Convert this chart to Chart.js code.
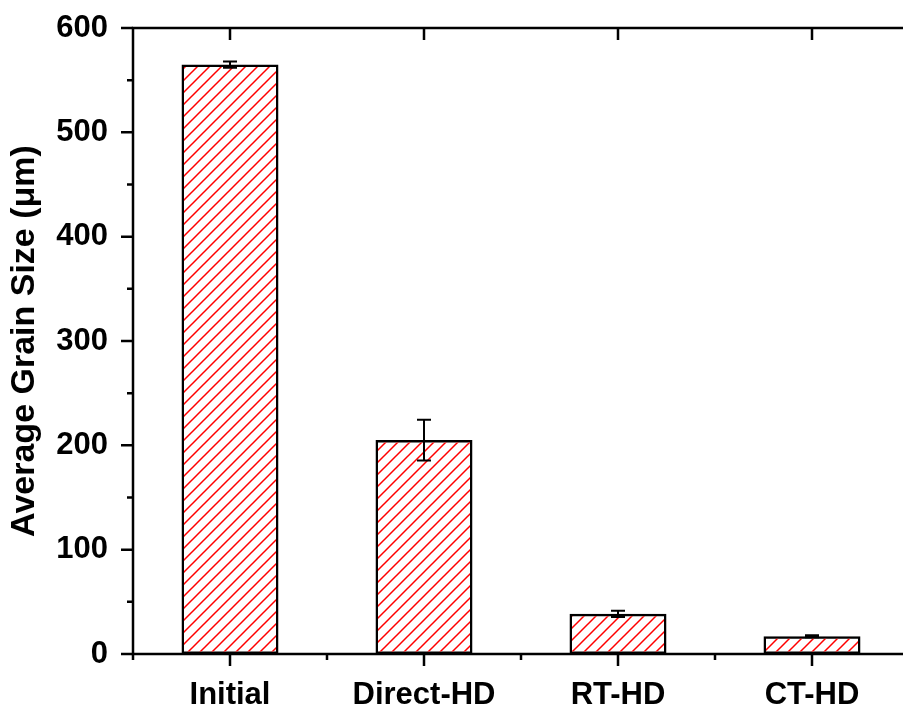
<!DOCTYPE html>
<html>
<head>
<meta charset="utf-8">
<title>Average Grain Size</title>
<script src="https://cdn.jsdelivr.net/npm/chart.js@4/dist/chart.umd.min.js"></script>
<style>
  html, body { margin: 0; padding: 0; background: #ffffff; overflow: hidden; }
  #wrap { width: 912px; height: 711px; }
</style>
</head>
<body>
<div id="wrap"><canvas id="chart" width="912" height="711"></canvas></div>
<script>
// Sample conditions and measured grain sizes (μm) with standard deviations
const categories = ['Initial', 'Direct-HD', 'RT-HD', 'CT-HD'];
const grainSize = [565, 205, 38.5, 17];
const grainSizeErr = [3, 19.5, 3, 1];
const yTickValues = [0, 100, 200, 300, 400, 500, 600];

const FONT = '"Liberation Sans", Arial, sans-serif';

// Red diagonal hatch used as the bar fill
function makeHatch() {
  const s = 12;
  const c = document.createElement('canvas');
  c.width = s; c.height = s;
  const g = c.getContext('2d');
  g.strokeStyle = '#ff0000';
  g.lineWidth = 1.5;
  g.beginPath();
  g.moveTo(-2, s + 2); g.lineTo(s + 2, -2);
  g.moveTo(-s / 2 - 2, s / 2 + 2); g.lineTo(s / 2 + 2, -s / 2 - 2);
  g.moveTo(s / 2 - 2, 3 * s / 2 + 2); g.lineTo(3 * s / 2 + 2, s / 2 - 2);
  g.stroke();
  return g.createPattern(c, 'repeat');
}

const ctx = document.getElementById('chart').getContext('2d');

// Error bars, axis frame and Origin-style tick marks
const decorations = {
  id: 'decorations',
  afterDatasetsDraw(chart) {
    const { ctx } = chart;
    const xs = chart.scales.x, ys = chart.scales.y;
    ctx.save();
    ctx.strokeStyle = '#000';
    ctx.lineWidth = 2;
    const cap = 7;
    grainSize.forEach((v, i) => {
      const x = xs.getPixelForValue(i);
      const yHi = ys.getPixelForValue(v + grainSizeErr[i]);
      const yLo = ys.getPixelForValue(v - grainSizeErr[i]);
      ctx.beginPath();
      ctx.moveTo(x, yHi); ctx.lineTo(x, yLo);
      ctx.moveTo(x - cap, yHi); ctx.lineTo(x + cap, yHi);
      ctx.moveTo(x - cap, yLo); ctx.lineTo(x + cap, yLo);
      ctx.stroke();
    });
    ctx.restore();
  },
  afterDraw(chart) {
    const { ctx, chartArea: a } = chart;
    const xs = chart.scales.x, ys = chart.scales.y;
    ctx.save();
    ctx.strokeStyle = '#000';
    ctx.lineWidth = 2.5;
    ctx.lineCap = 'square';
    // frame: left, bottom, top
    ctx.beginPath();
    ctx.moveTo(a.left, a.top); ctx.lineTo(a.left, a.bottom);
    ctx.moveTo(a.left, a.bottom); ctx.lineTo(a.right, a.bottom);
    ctx.moveTo(a.left, a.top); ctx.lineTo(a.right, a.top);
    ctx.stroke();
    ctx.lineCap = 'butt';
    ctx.beginPath();
    // y ticks (outward): major every 100, minor every 50
    for (let v = 0; v <= 600; v += 50) {
      const y = ys.getPixelForValue(v);
      const len = v % 100 === 0 ? 12 : 6;
      ctx.moveTo(a.left, y); ctx.lineTo(a.left - len, y);
    }
    // x ticks: major at categories (bottom outward, top inward), minor between
    categories.forEach((c, i) => {
      const x = xs.getPixelForValue(i);
      ctx.moveTo(x, a.bottom); ctx.lineTo(x, a.bottom + 12);
      ctx.moveTo(x, a.top); ctx.lineTo(x, a.top + 12);
    });
    for (let i = 0; i <= categories.length; i++) {
      const x = xs.getPixelForValue(i - 0.5);
      ctx.moveTo(x, a.bottom); ctx.lineTo(x, a.bottom + 6);
    }
    ctx.stroke();
    ctx.restore();
  }
};

new Chart(ctx, {
  type: 'bar',
  data: {
    labels: categories,
    datasets: [{
      data: grainSize,
      backgroundColor: makeHatch(),
      borderColor: '#000',
      borderWidth: 2.5,
      borderSkipped: false,
      categoryPercentage: 1,
      barPercentage: 0.5
    }]
  },
  options: {
    responsive: false,
    animation: false,
    devicePixelRatio: 1,
    layout: { padding: { top: 28, right: 3, left: 0, bottom: 0 } },
    plugins: { legend: { display: false }, tooltip: { enabled: false } },
    scales: {
      x: {
        type: 'category',
        grid: { display: false, drawTicks: false },
        border: { display: false },
        ticks: {
          color: '#000',
          padding: 23,
          maxRotation: 0,
          autoSkip: false,
          font: { family: FONT, size: 31, weight: 'bold', lineHeight: 1.2 }
        },
        afterFit(scale) {
          scale.height = 57;
          scale.paddingLeft = 0;
          scale.paddingRight = 0;
        }
      },
      y: {
        min: 0,
        max: 600,
        grid: { display: false, drawTicks: false },
        border: { display: false },
        afterBuildTicks(scale) { scale.ticks = yTickValues.map(v => ({ value: v })); },
        ticks: {
          color: '#000',
          padding: 25,
          font: { family: FONT, size: 31, weight: 'bold' }
        },
        title: {
          display: true,
          text: 'Average Grain Size (μm)',
          color: '#000',
          padding: { top: 8, bottom: 0 },
          font: { family: FONT, size: 34, weight: 'bold', lineHeight: 1 }
        },
        afterFit(scale) {
          scale.width = 133;
          scale.paddingTop = 0;
          scale.paddingBottom = 0;
        }
      }
    }
  },
  plugins: [decorations]
});
</script>
</body>
</html>
